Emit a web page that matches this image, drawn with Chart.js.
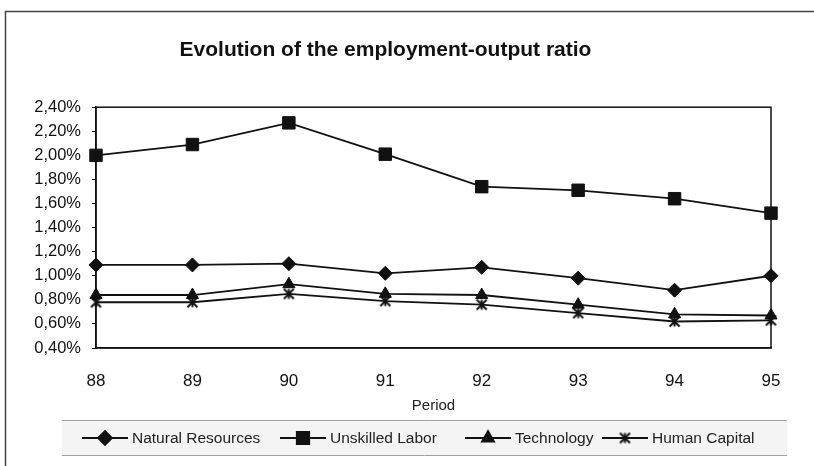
<!DOCTYPE html>
<html>
<head>
<meta charset="utf-8">
<script src="https://cdn.jsdelivr.net/npm/chart.js@4"></script>
<style>
  body { margin: 0; background: #fff; }
  canvas { display: block; }
</style>
</head>
<body>
<canvas id="ratioChart" width="814" height="466"></canvas>
<script>
// data (percent)
const periods = ['88', '89', '90', '91', '92', '93', '94', '95'];
const naturalResources = [1.09, 1.09, 1.10, 1.02, 1.07, 0.98, 0.88, 1.00];
const unskilledLabor = [2.00, 2.09, 2.27, 2.01, 1.74, 1.71, 1.64, 1.52];
const technology = [0.84, 0.84, 0.93, 0.85, 0.84, 0.76, 0.68, 0.67];
const humanCapital = [0.78, 0.78, 0.85, 0.79, 0.76, 0.69, 0.62, 0.63];

const FONT = '"Liberation Sans", Arial, sans-serif';
const INK = '#111';
// left edge of each legend entry
const legendSlots = [82, 280, 465, 602];

// excel style star: an X with a vertical bar
function starMarker(size) {
    const c = document.createElement('canvas');
    c.width = size;
    c.height = size;
    const g = c.getContext('2d');
    g.strokeStyle = INK;
    g.lineWidth = 2;
    const a = 1.5, b = size - 1.5;
    g.beginPath();
    g.moveTo(a, a); g.lineTo(b, b);
    g.moveTo(b, a); g.lineTo(a, b);
    g.moveTo(size / 2, a); g.lineTo(size / 2, b);
    g.stroke();
    return c;
}

const pageFrame = {
    id: 'pageFrame',
    beforeDraw(chart) {
        const ctx = chart.ctx;
        ctx.save();
        ctx.fillStyle = '#fff';
        ctx.fillRect(0, 0, chart.width, chart.height);
        ctx.strokeStyle = '#444';
        ctx.lineWidth = 1.5;
        ctx.beginPath();
        ctx.moveTo(5.5, chart.height);
        ctx.lineTo(5.5, 11.5);
        ctx.lineTo(chart.width, 11.5);
        ctx.stroke();
        ctx.restore();
    },
    beforeDatasetsDraw(chart) {
        const a = chart.chartArea;
        const ctx = chart.ctx;
        ctx.save();
        ctx.strokeStyle = INK;
        ctx.lineWidth = 1.5;
        ctx.strokeRect(a.left, a.top, a.right - a.left, a.bottom - a.top);
        ctx.restore();
    }
};

const legendBox = {
    id: 'legendBox',
    afterDraw(chart) {
        const ctx = chart.ctx;
        const y = 438;
        ctx.save();
        ctx.fillStyle = '#f4f4f4';
        ctx.fillRect(62, 420, 725, 36);
        ctx.strokeStyle = '#a0a0a0';
        ctx.lineWidth = 1;
        ctx.beginPath();
        ctx.moveTo(62, 420.5); ctx.lineTo(787, 420.5);
        ctx.moveTo(62, 455.5); ctx.lineTo(787, 455.5);
        ctx.stroke();
        ctx.font = '15.5px ' + FONT;
        ctx.textBaseline = 'middle';
        chart.data.datasets.forEach((ds, i) => {
            const x = legendSlots[i];
            ctx.strokeStyle = INK;
            ctx.fillStyle = INK;
            ctx.lineWidth = 1.8;
            ctx.beginPath();
            ctx.moveTo(x, y);
            ctx.lineTo(x + 46, y);
            ctx.stroke();
            Chart.helpers.drawPoint(ctx, {
                pointStyle: ds.pointStyle,
                radius: ds.pointRadius,
                rotation: 0,
                borderWidth: 1
            }, x + 23, y);
            ctx.fillStyle = '#222';
            ctx.fillText(ds.label, x + 50, y + 1);
        });
        ctx.restore();
    }
};

function series(label, data, style, radius) {
    return {
        label: label,
        data: data,
        borderColor: INK,
        backgroundColor: INK,
        borderWidth: 1.8,
        pointStyle: style,
        pointRadius: radius,
        pointBorderWidth: 1,
        tension: 0
    };
}

new Chart(document.getElementById('ratioChart'), {
    type: 'line',
    data: {
        labels: periods,
        datasets: [
            series('Natural Resources', naturalResources, 'rectRot', 7),
            series('Unskilled Labor', unskilledLabor, 'rect', 8.8),
            series('Technology', technology, 'triangle', 7),
            series('Human Capital', humanCapital, starMarker(13), 6.5)
        ]
    },
    options: {
        responsive: false,
        animation: false,
        devicePixelRatio: 1,
        layout: { padding: { left: 0, right: 43, top: 0, bottom: 0 } },
        plugins: {
            legend: { display: false },
            tooltip: { enabled: false },
            title: {
                display: true,
                text: 'Evolution of the employment-output ratio',
                color: INK,
                font: { family: FONT, size: 21, weight: 'bold' },
                padding: { top: 38, bottom: 44 }
            }
        },
        scales: {
            x: {
                offset: false,
                grid: { display: false },
                border: { display: true, color: INK, width: 1.5 },
                ticks: {
                    color: INK,
                    font: { family: FONT, size: 17 },
                    padding: 15,
                    maxRotation: 0
                },
                title: {
                    display: true,
                    text: 'Period',
                    color: '#222',
                    font: { family: FONT, size: 15 },
                    padding: { top: 0, bottom: 51 }
                },
                afterFit(scale) { scale.height = 118; }
            },
            y: {
                min: 0.4,
                max: 2.4,
                grid: {
                    drawOnChartArea: false,
                    drawTicks: true,
                    tickLength: 4,
                    color: INK
                },
                border: { display: true, color: INK, width: 1.5 },
                ticks: {
                    stepSize: 0.2,
                    color: INK,
                    padding: 11,
                    font: { family: FONT, size: 16.5 },
                    callback: v => v.toFixed(2).replace('.', ',') + '%'
                },
                afterFit(scale) { scale.width = 96; }
            }
        }
    },
    plugins: [pageFrame, legendBox]
});
</script>
</body>
</html>
